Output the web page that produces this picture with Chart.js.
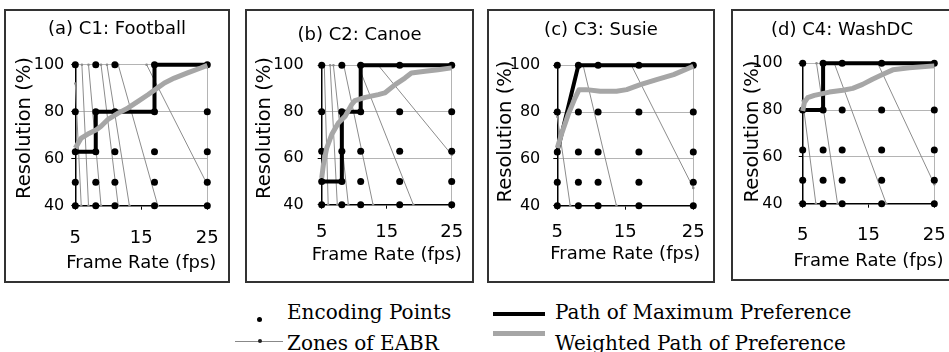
<!DOCTYPE html>
<html>
<head>
<meta charset="utf-8">
<script src="https://cdn.jsdelivr.net/npm/chart.js@4.4.1/dist/chart.umd.min.js"></script>
<style>
  html, body { margin: 0; padding: 0; background: #fff; }
  body { width: 949px; height: 352px; position: relative; overflow: hidden; }
  canvas.panel { position: absolute; }
  .frame { position: absolute; border: 2px solid #333; box-sizing: border-box; pointer-events: none; }
  .lg { position: absolute; }
  .lg-text { position: absolute; font-family: 'DejaVu Serif', serif; font-size: 20px; line-height: 20px; color: #000; white-space: nowrap; }
</style>
</head>
<body>

<!-- legend -->
<div class="lg" style="left:257px;top:317px;width:5px;height:5px;border-radius:50%;background:#000"></div>
<div class="lg-text" style="left:287px;top:302px">Encoding Points</div>
<div class="lg" style="left:235px;top:340.5px;width:48px;height:1px;background:#888"></div>
<div class="lg" style="left:257.5px;top:339px;width:4px;height:4px;border-radius:50%;background:#222"></div>
<div class="lg-text" style="left:287px;top:333px">Zones of EABR</div>
<div class="lg" style="left:493px;top:311.5px;width:52px;height:4px;background:#000"></div>
<div class="lg-text" style="left:555px;top:302px">Path of Maximum Preference</div>
<div class="lg" style="left:493px;top:331px;width:52px;height:5px;background:#a6a6a6"></div>
<div class="lg-text" style="left:555px;top:333px">Weighted Path of Preference</div>

<script>
// axes
const frameRates = [5, 8.1, 11, 17, 25];
const resolutions = [40, 50, 63, 80, 100];
const xTickValues = [5, 15, 25];
const yTickValues = [40, 60, 80, 100];

const panelTitles = ["(a) C1: Football", "(b) C2: Canoe", "(c) C3: Susie", "(d) C4: WashDC"];
const xAxisTitle = "Frame Rate (fps)";
const yAxisTitle = "Resolution (%)";

// path of maximum preference [fps, resolution]
const maxPathFootball = [[5, 63], [8.1, 63], [8.1, 80], [17, 80], [17, 100], [25, 100]];
const maxPathCanoe = [[5, 50], [8.1, 50], [8.1, 80], [11, 80], [11, 100], [25, 100]];
const maxPathSusie = [[5, 63], [8.1, 100], [25, 100]];
const maxPathWashDC = [[5, 80], [8.1, 80], [8.1, 100], [25, 100]];

// weighted path of preference
const weightedFootball = [[5, 64.5], [5.9, 68.8], [6.9, 70.5], [8.2, 72.3], [8.9, 73.8], [9.9, 76.6],
    [11.5, 79.4], [13, 81.6], [14.5, 84.4], [16, 87.2], [17.1, 89.4], [18.5, 92.2], [20, 94.3],
    [22, 96.5], [24, 98.6], [25, 99.7]];
const weightedCanoe = [[5, 51.5], [5.26, 57.2], [5.77, 64.4], [6.54, 70.2], [7.56, 75.2], [8.59, 78],
    [9.62, 83.1], [10.1, 84.8], [11.7, 86.2], [13.7, 87.4], [14.7, 88.1], [16.3, 91.7], [17.8, 94.5],
    [18.8, 96.7], [20.9, 97.4], [22.9, 98.1], [25, 98.9]];
const weightedSusie = [[5, 64.7], [5.6, 70.4], [6.6, 78.9], [7.6, 86], [8.2, 89.6], [9.3, 89.6],
    [11.3, 88.9], [13.7, 88.9], [15.2, 89.6], [17.2, 91.7], [19.6, 93.9], [22.1, 96], [25, 99.6]];
const weightedWashDC = [[5, 79.6], [5.25, 83.2], [5.76, 85.3], [6.77, 86.3], [9.05, 87.7], [11.1, 88.5],
    [12.6, 89.3], [14.1, 91], [15.6, 93.2], [17.2, 95.3], [18.7, 97.2], [21.2, 98.1], [25, 98.9]];

// zones of EABR (segment end points)
const zonesFootball = [
    [[5, 92], [5.9, 40]], [[6.0, 100], [7.0, 40]], [[7.0, 100], [8.9, 40]], [[8.9, 100], [11.5, 40]],
    [[9.8, 100], [13.2, 40]], [[11.5, 100], [17.5, 40]], [[15.8, 100], [25, 49]],
];
const zonesCanoe = [
    [[5.4, 100], [6.0, 40]], [[6.3, 100], [7.4, 40]], [[6.8, 100], [9.1, 40]],
    [[8.4, 100], [12.9, 40]], [[10.6, 100], [19.1, 40]], [[13.7, 100], [25, 61.5]],
];
const zonesSusie = [
    [[5, 78], [6.9, 40]], [[8.8, 100], [13.7, 40]], [[15.9, 100], [25, 47.6]],
];
const zonesWashDC = [
    [[5, 84], [7.0, 40]], [[7.1, 100], [10.3, 40]], [[9.8, 100], [17.7, 40]], [[16.4, 100], [25, 48.3]],
];

const maxPaths = [maxPathFootball, maxPathCanoe, maxPathSusie, maxPathWashDC];
const weightedPaths = [weightedFootball, weightedCanoe, weightedSusie, weightedWashDC];
const zones = [zonesFootball, zonesCanoe, zonesSusie, zonesWashDC];

// page layout of each panel (box: left, top, width, height; plot: left, right, top, bottom)
const panelLayout = [
    { box: [4, 9, 226, 274], plot: [75.3, 207.3, 64.7, 205.7], titleY: 29, xTickY: 238, xTitleY: 263, yTitleX: 24.5, yTitleY: 128, yTickGap: 11 },
    { box: [245, 9, 229, 274], plot: [321.7, 451.7, 65.3, 204.7], titleY: 35.5, xTickY: 232.5, xTitleY: 255.5, yTitleX: 265, yTitleY: 128, yTickGap: 18 },
    { box: [487, 9, 228, 274], plot: [557.3, 693.3, 65.3, 205.7], titleY: 30, xTickY: 232, xTitleY: 254, yTitleX: 505.5, yTitleY: 131.5, yTickGap: 17 },
    { box: [731, 9, 222, 272], plot: [802.7, 934.3, 63.3, 203.7], titleY: 30.5, xTickY: 235, xTitleY: 261.5, yTitleX: 752.5, yTitleY: 131.5, yTickGap: 20 },
];

const FONT = "'DejaVu Sans', sans-serif";
Chart.defaults.font.family = FONT;
Chart.defaults.color = "#000";

const TITLE_SIZE = 18, XTICK_SIZE = 18, YTICK_SIZE = 16, XTITLE_SIZE = 18, YTITLE_SIZE = 19.5, TICK_LEN = 4;
const GRID_GRAY = "#b4b4b4";

const toXY = (pts) => pts.map(([x, y]) => ({ x, y }));

// axis titles drawn without the width limit of the scale titles
const axisTitles = {
    id: "axisTitles",
    afterDraw(chart, args, opts) {
        const { ctx, chartArea } = chart;
        ctx.save();
        ctx.fillStyle = "#000";
        ctx.textAlign = "center";
        ctx.textBaseline = "middle";
        ctx.font = `${XTITLE_SIZE}px ${FONT}`;
        ctx.fillText(xAxisTitle, (chartArea.left + chartArea.right) / 2, opts.xY);
        ctx.translate(opts.yX, opts.yY);
        ctx.rotate(-Math.PI / 2);
        ctx.font = `${YTITLE_SIZE}px ${FONT}`;
        ctx.fillText(yAxisTitle, 0, 0);
        ctx.restore();
    },
};

function makePanel(i) {
    const L = panelLayout[i];
    const [bx, by, bw, bh] = L.box;

    const canvas = document.createElement("canvas");
    canvas.className = "panel";
    canvas.width = bw;
    canvas.height = bh;
    canvas.style.left = bx + "px";
    canvas.style.top = by + "px";
    document.body.appendChild(canvas);

    const frame = document.createElement("div");
    frame.className = "frame";
    Object.assign(frame.style, { left: bx + "px", top: by + "px", width: bw + "px", height: bh + "px" });
    document.body.appendChild(frame);

    const plotL = L.plot[0] - bx, plotR = L.plot[1] - bx;
    const plotT = L.plot[2] - by, plotB = L.plot[3] - by;
    const titleLH = TITLE_SIZE * 1.2;

    const titlePadTop = (L.titleY - by) - titleLH / 2;
    const titlePadBottom = plotT - titlePadTop - titleLH;
    const xScaleH = bh - plotB;
    // tick labels are centred half a line height below the tick mark
    const xTickLH = 2 * ((L.xTickY - by) - plotB - TICK_LEN);
    const padRight = bw - plotR;

    const encodingPoints = [];
    resolutions.forEach((r) => frameRates.forEach((f) => encodingPoints.push({ x: f, y: r })));

    const datasets = [
        {
            label: "Weighted Path of Preference",
            data: toXY(weightedPaths[i]),
            showLine: true,
            borderColor: "#a6a6a6",
            borderWidth: 5,
            borderJoinStyle: "round",
            pointRadius: 0,
            clip: false,
        },
        {
            label: "Path of Maximum Preference",
            data: toXY(maxPaths[i]),
            showLine: true,
            borderColor: "#000",
            borderWidth: 4,
            borderJoinStyle: "miter",
            pointRadius: 0,
            clip: false,
        },
        {
            label: "Encoding Points",
            data: encodingPoints,
            showLine: false,
            pointRadius: 3.5,
            pointBackgroundColor: "#000",
            pointBorderWidth: 0,
            clip: false,
        },
    ];
    zones[i].forEach((seg) => {
        datasets.push({
            label: "Zones of EABR",
            data: toXY(seg),
            showLine: true,
            borderColor: "#8c8c8c",
            borderWidth: 1,
            pointRadius: 1.3,
            pointBackgroundColor: "#8c8c8c",
            pointBorderWidth: 0,
            clip: false,
        });
    });

    new Chart(canvas, {
        type: "scatter",
        data: { datasets },
        plugins: [axisTitles],
        options: {
            responsive: false,
            animation: false,
            events: [],
            layout: { padding: 0, autoPadding: false },
            plugins: {
                legend: { display: false },
                tooltip: { enabled: false },
                title: {
                    display: true,
                    text: panelTitles[i],
                    color: "#000",
                    font: { size: TITLE_SIZE, weight: "normal" },
                    padding: { top: titlePadTop, bottom: titlePadBottom },
                },
                axisTitles: {
                    xY: L.xTitleY - by,
                    yX: L.yTitleX - bx,
                    yY: L.yTitleY - by,
                },
            },
            scales: {
                x: {
                    type: "linear",
                    position: "bottom",
                    min: 5,
                    max: 25,
                    afterBuildTicks: (s) => { s.ticks = xTickValues.map((v) => ({ value: v })); },
                    afterFit: (s) => { s.height = xScaleH; },
                    grid: {
                        color: (ctx) => (ctx.tick && ctx.tick.value === 25 ? GRID_GRAY : "rgba(0,0,0,0)"),
                        tickColor: "#000",
                        tickLength: TICK_LEN,
                        lineWidth: 1,
                    },
                    border: { display: true, color: "#000", width: 1.5 },
                    ticks: {
                        font: { size: XTICK_SIZE, lineHeight: xTickLH + "px" },
                        padding: 0,
                        maxRotation: 0,
                        autoSkip: false,
                    },
                    title: { display: false },
                },
                y: {
                    type: "linear",
                    position: "left",
                    min: 40,
                    max: 100,
                    afterBuildTicks: (s) => { s.ticks = yTickValues.map((v) => ({ value: v })); },
                    afterFit: (s) => { s.width = plotL; },
                    grid: {
                        color: (ctx) => (ctx.tick && ctx.tick.value === 40 ? "rgba(0,0,0,0)" : GRID_GRAY),
                        tickColor: "#000",
                        tickLength: TICK_LEN,
                        lineWidth: 1,
                    },
                    border: { display: true, color: "#000", width: 1.5 },
                    ticks: { font: { size: YTICK_SIZE }, padding: L.yTickGap - TICK_LEN, autoSkip: false },
                    title: { display: false },
                },
                // empty right-hand axis that only reserves the margin
                pad: {
                    type: "linear",
                    position: "right",
                    display: true,
                    grid: { display: false },
                    border: { display: false },
                    ticks: { display: false },
                    afterFit: (s) => { s.width = padRight; },
                },
            },
        },
    });
}

panelTitles.forEach((_, i) => makePanel(i));
</script>
</body>
</html>
